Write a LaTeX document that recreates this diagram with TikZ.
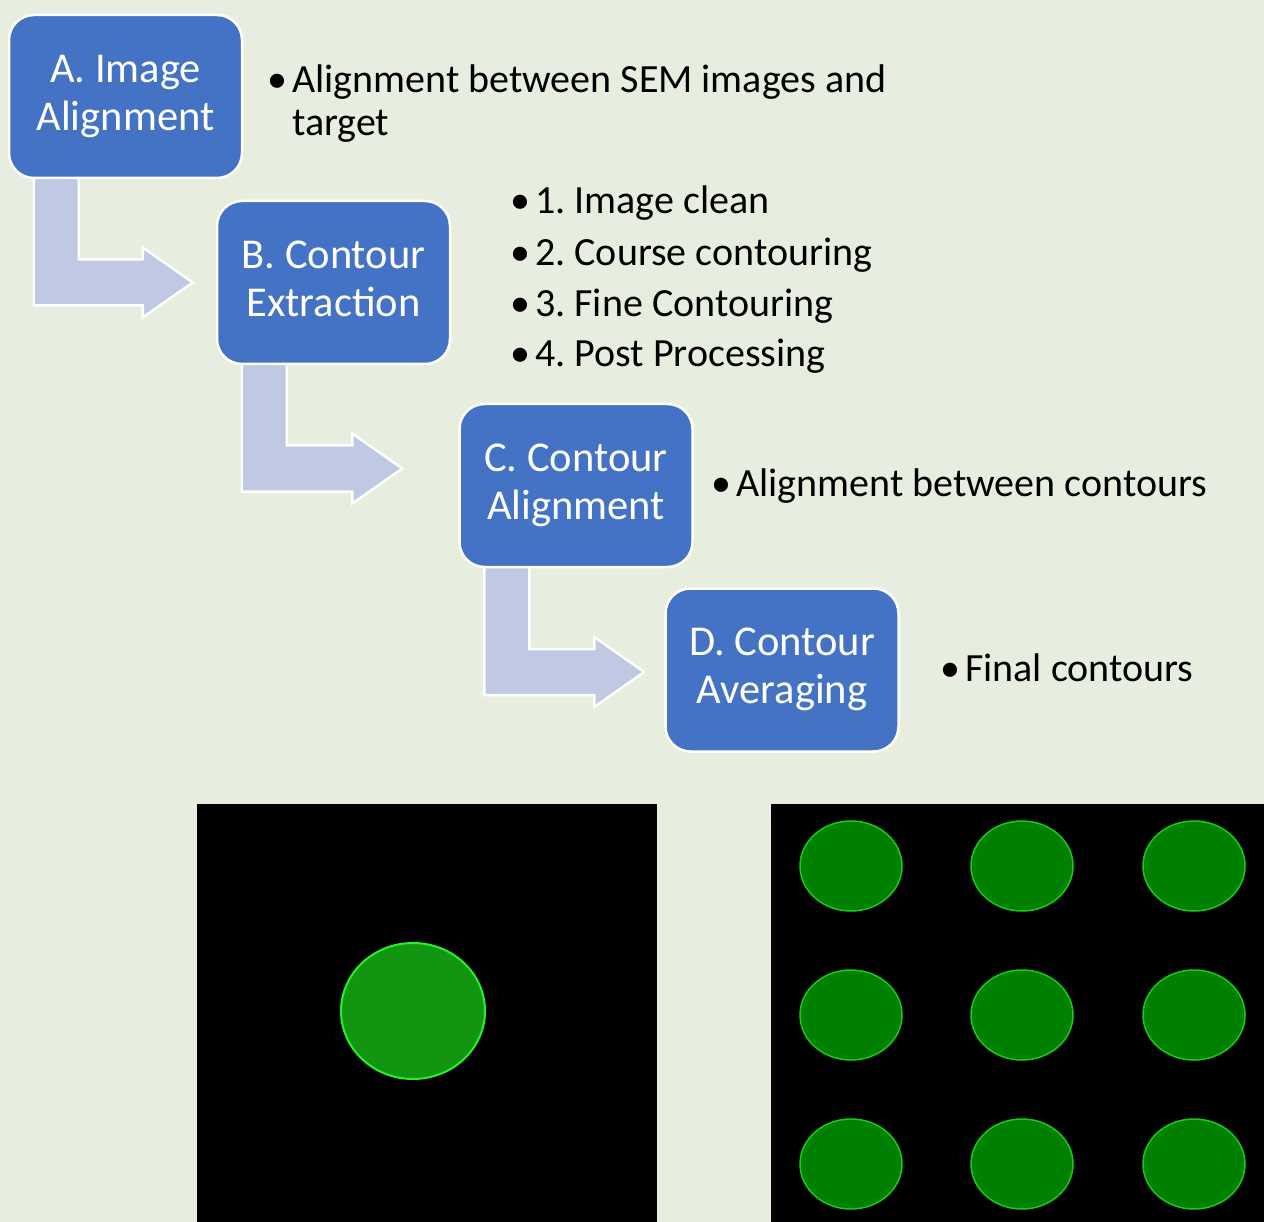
\documentclass[tikz,border=0pt]{standalone}
\usepackage{fontspec}
\setmainfont{Carlito}
\usetikzlibrary{calc}
\definecolor{bg}{RGB}{232,238,223}
\definecolor{boxblue}{RGB}{68,114,196}
\definecolor{arrowfill}{RGB}{191,201,228}
\definecolor{dotgreen}{RGB}{18,150,18}
\definecolor{limeedge}{RGB}{40,240,40}
\definecolor{darkgreen}{RGB}{0,128,0}
\definecolor{edgegreen}{RGB}{20,205,20}
\frenchspacing
\pgfdeclarelayer{back}
\pgfsetlayers{back,main}
\newcommand\bentarr[4]{%
 \draw[bentarrow] let \p1=($(#1.south west)+(26,-2)$), \p2=($(#2.west)+(-#3,#4)$) in
 (\x1,\y1) -- ({\x1+45pt},\y1) -- ({\x1+45pt},{\y2+23pt}) -- ({\x2-50pt},{\y2+23pt})
 -- ({\x2-50pt},{\y2+35pt}) -- (\x2,\y2) -- ({\x2-50pt},{\y2-35pt}) -- ({\x2-50pt},{\y2-23pt})
 -- (\x1,{\y2-23pt}) -- cycle;}
\newcommand\boxlines[2]{\raisebox{-4pt}{\begin{tabular}{@{}c@{}}#1\\#2\end{tabular}}}
\newcommand\blt{\makebox[22pt][l]{\hspace{-3pt}•}}
\begin{document}
\begin{tikzpicture}[x=1pt,y=-1pt,
 stepbox/.style={draw=white, line width=2.5pt, fill=boxblue, rounded corners=25pt,
   minimum width=233pt, minimum height=163pt, inner sep=0pt, text=white,
   font=\fontsize{42.5}{48}\selectfont},
 bullet/.style={anchor=base west, inner sep=0pt, font=\fontsize{40}{44}\selectfont},
 bentarrow/.style={draw=white, line width=2.5pt, fill=arrowfill, line join=miter},
 plate/.style={fill=black, draw=none},
 blobone/.style={fill=dotgreen, draw=limeedge, line width=2pt},
 blob/.style={fill=darkgreen, draw=edgegreen, line width=1.5pt}]
\begin{pgfonlayer}{back}
\fill[bg] (0,0) rectangle (1264,1222);
\end{pgfonlayer}
\useasboundingbox (0,0) rectangle (1264,1222);

% process boxes
\node[stepbox] (A) at (125.5,96.5) {\boxlines{A. Image}{Alignment}};
\node[stepbox] (B) at (333.5,282.5) {\boxlines{B. Contour}{Extraction}};
\node[stepbox] (C) at (576,485.5) {\boxlines{C. Contour}{Alignment}};
\node[stepbox] (D) at (782,670) {\boxlines{D. Contour}{Averaging}};

% bent arrows behind the boxes
\begin{pgfonlayer}{back}
\bentarr{A}{B}{23}{0}
\bentarr{B}{C}{56}{-17}
\bentarr{C}{D}{20}{2}
\end{pgfonlayer}

% bullet texts
\node[bullet] (a1) at (270,93) {\blt Alignment between SEM images and};
\node[bullet] (a2) at (292,136) {target};
\node[bullet] (b1) at (513,214) {\blt 1. Image clean};
\node[bullet] (b2) at (513,266) {\blt 2. Course contouring};
\node[bullet] (b3) at (513,317) {\blt 3. Fine Contouring};
\node[bullet] (b4) at (513,367) {\blt 4. Post Processing};
\node[bullet] (c1) at (714,496) {\blt Alignment between contours};
\node[bullet] (d1) at (943,681) {\blt Final contours};

% bottom images
\fill[plate] (197,804) rectangle (657,1222);
\fill[plate] (771,804) rectangle (1264,1222);
\draw[blobone] (413,1011) ellipse [x radius=72, y radius=68];
\foreach \cx in {851,1022,1194}{
  \foreach \cy in {866,1015,1164}{
    \draw[blob] (\cx,\cy) ellipse [x radius=51, y radius=45];
  }
}
\end{tikzpicture}
\end{document}
